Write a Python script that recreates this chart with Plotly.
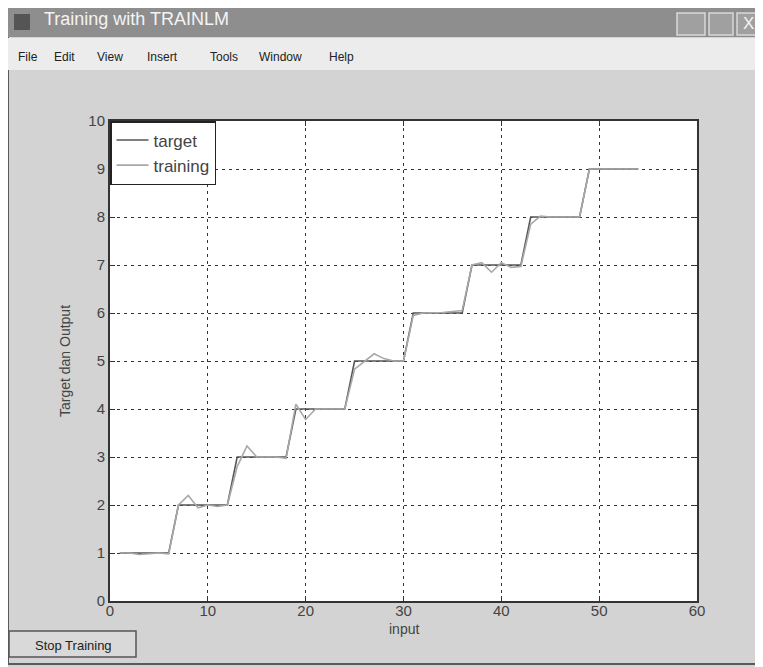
import plotly.graph_objects as go

# ---- data ----
x_input = list(range(1, 55))
target = [1]*6 + [2]*6 + [3]*6 + [4]*6 + [5]*6 + [6]*6 + [7]*6 + [8]*6 + [9]*6
training = [
    1.00, 1.00, 0.97, 0.99, 1.00, 0.98,
    2.00, 2.20, 1.94, 2.00, 1.97, 2.00,
    2.80, 3.23, 3.00, 3.00, 3.00, 2.97,
    4.10, 3.78, 4.00, 4.00, 4.00, 4.00,
    4.83, 5.00, 5.15, 5.05, 5.00, 5.00,
    5.95, 6.00, 6.00, 6.01, 6.03, 6.05,
    7.00, 7.05, 6.85, 7.05, 6.95, 6.97,
    7.85, 8.02, 8.00, 8.00, 8.00, 8.00,
    9.00, 9.00, 9.00, 9.00, 9.00, 9.00,
]
x_ticks = [0, 10, 20, 30, 40, 50, 60]
y_ticks = list(range(0, 11))
window_title = "Training with TRAINLM"
menu_items = ["File", "Edit", "View", "Insert", "Tools", "Window", "Help"]

# page body has an 8px margin, so the figure is drawn 8px in from the corner
OFF = 8
W, H = 763 - OFF, 667 - OFF
L, R, T, B = 110, 697, 121, 601  # plot area in reference pixels


def px(xp):
    return (xp - L) / (R - L)


def py(yp):
    return (B - yp) / (B - T)


fig = go.Figure()
fig.add_trace(go.Scatter(x=x_input, y=target, mode="lines", name="target",
                         line=dict(color="#555555", width=1.6)))
fig.add_trace(go.Scatter(x=x_input, y=training, mode="lines", name="training",
                         line=dict(color="#a8a8a8", width=1.6)))

shapes = []
# window frame
shapes.append(dict(type="rect", xref="paper", yref="paper",
                   x0=px(OFF), x1=px(761), y0=py(664), y1=py(OFF),
                   line=dict(color="#5a5a5a", width=2), fillcolor="rgba(0,0,0,0)", layer="below"))
# title bar
shapes.append(dict(type="rect", xref="paper", yref="paper",
                   x0=px(OFF), x1=px(760), y0=py(37), y1=py(OFF),
                   line=dict(width=0), fillcolor="#8e8e8e", layer="below"))
# title icon
shapes.append(dict(type="rect", xref="paper", yref="paper",
                   x0=px(14), x1=px(30), y0=py(30), y1=py(14),
                   line=dict(width=0), fillcolor="#555555", layer="below"))
# window buttons
for bx0, bx1 in [(677, 705), (709, 733), (737, 760)]:
    shapes.append(dict(type="rect", xref="paper", yref="paper",
                       x0=px(bx0), x1=px(bx1), y0=py(35), y1=py(13),
                       line=dict(color="#d8d8d8", width=1.5), fillcolor="#a0a0a0", layer="below"))
# menu bar
shapes.append(dict(type="rect", xref="paper", yref="paper",
                   x0=px(OFF), x1=px(760), y0=py(70), y1=py(38),
                   line=dict(width=0), fillcolor="#ececec", layer="below"))
# stop training button
shapes.append(dict(type="rect", xref="paper", yref="paper",
                   x0=px(9), x1=px(136), y0=py(657), y1=py(631),
                   line=dict(color="#555555", width=1.5), fillcolor="#d9d9d9", layer="below"))

annotations = [
    dict(text=window_title, xref="paper", yref="paper", x=px(42), y=py(19),
         xanchor="left", yanchor="middle", showarrow=False,
         font=dict(family="Liberation Sans, Arial", size=18, color="#f4f4f4")),
    dict(text="X", xref="paper", yref="paper", x=px(748), y=py(24),
         xanchor="center", yanchor="middle", showarrow=False,
         font=dict(family="Liberation Sans, Arial", size=17, color="#f4f4f4")),
    dict(text="Stop Training", xref="paper", yref="paper", x=px(73), y=py(645),
         xanchor="center", yanchor="middle", showarrow=False,
         font=dict(family="Liberation Sans, Arial", size=13, color="#222222")),
    dict(text="input", xref="paper", yref="paper", x=px(404), y=py(629),
         xanchor="center", yanchor="middle", showarrow=False,
         font=dict(family="Liberation Sans, Arial", size=14, color="#444444")),
]
menu_x = [16, 52, 95, 145, 208, 257, 327]
for item, mxp in zip(menu_items, menu_x):
    annotations.append(dict(text=item, xref="paper", yref="paper", x=px(mxp), y=py(57),
                            xanchor="left", yanchor="middle", showarrow=False,
                            font=dict(family="Liberation Sans, Arial", size=12, color="#222222")))

grid_dash = "3px,4px"
axis_font = dict(family="Liberation Sans, Arial", size=15, color="#444444")

fig.update_layout(
    width=W, height=H, autosize=False,
    margin=dict(l=L - OFF, r=W - (R - OFF), t=T - OFF, b=H - (B - OFF), pad=0),
    paper_bgcolor="#d3d3d3",
    plot_bgcolor="#ffffff",
    shapes=shapes,
    annotations=annotations,
    showlegend=True,
    legend=dict(x=0, y=1, xanchor="left", yanchor="top",
                bgcolor="#ffffff", bordercolor="#222222", borderwidth=1.5,
                font=dict(family="Liberation Sans, Arial", size=17, color="#444444"),
                itemwidth=32, tracegroupgap=0),
    xaxis=dict(range=[0, 60], tickvals=x_ticks, ticks="inside", ticklen=5,
               tickcolor="#333333", showline=True, linecolor="#333333", linewidth=2,
               mirror="ticks", showgrid=True, gridcolor="#333333", gridwidth=1.2,
               griddash=grid_dash, zeroline=False, tickfont=axis_font,
               ticklabelstandoff=-5),
    yaxis=dict(range=[0, 10], tickvals=y_ticks, ticks="inside", ticklen=5,
               tickcolor="#333333", showline=True, linecolor="#333333", linewidth=2,
               mirror="ticks", showgrid=True, gridcolor="#333333", gridwidth=1.2,
               griddash=grid_dash, zeroline=False, tickfont=axis_font,
               title=dict(text="Target dan Output",
                          font=dict(family="Liberation Sans, Arial", size=14, color="#444444"),
                          standoff=14)),
)

fig.write_html("out.html")
